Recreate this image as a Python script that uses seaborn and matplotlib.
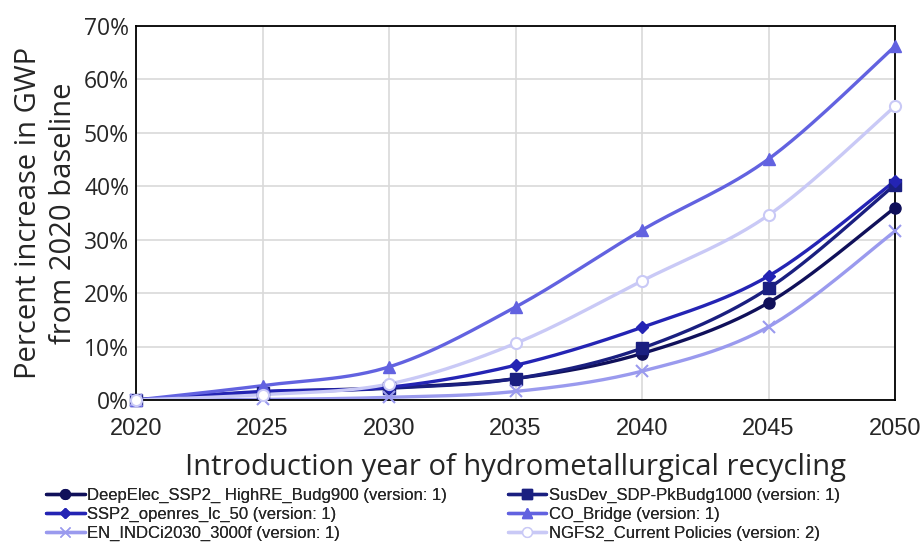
import numpy as np
import pandas as pd
import matplotlib
matplotlib.use("Agg")
import matplotlib.pyplot as plt
from matplotlib.lines import Line2D
from matplotlib.ticker import PercentFormatter
import seaborn as sns

years = [2020, 2025, 2030, 2035, 2040, 2045, 2050]
deepelec = [0.0, 1.5, 2.3, 4.0, 8.7, 18.2, 36.0]
susdev = [0.0, 1.3, 2.2, 4.0, 9.7, 20.9, 40.3]
ssp2 = [0.0, 1.6, 2.4, 6.5, 13.6, 23.2, 41.0]
co_bridge = [0.0, 2.7, 6.2, 17.4, 31.8, 45.1, 66.2]
en_indci = [0.0, 0.1, 0.5, 1.6, 5.4, 13.7, 31.6]
ngfs2 = [0.0, 1.0, 3.0, 10.6, 22.3, 34.6, 55.0]

names = ["DeepElec_SSP2_ HighRE_Budg900 (version: 1)",
         "SusDev_SDP-PkBudg1000 (version: 1)",
         "SSP2_openres_lc_50 (version: 1)",
         "CO_Bridge (version: 1)",
         "EN_INDCi2030_3000f (version: 1)",
         "NGFS2_Current Policies (version: 2)"]
values = [deepelec, susdev, ssp2, co_bridge, en_indci, ngfs2]
colors = ["#10105a", "#1a1f80", "#2424b4", "#6262e0", "#9a9aee", "#c9c9f6"]
markers = ["o", "s", "D", "^", "x", "o"]
filled = [True, True, True, True, True, False]
msizes = [8, 8, 6, 8, 8, 8]


def smooth(x, y, n=30):
    x = np.asarray(x, float); y = np.asarray(y, float)
    P = np.column_stack([x, y])
    P = np.vstack([P[0], P, P[-1]])
    out = []
    for i in range(1, len(P) - 2):
        p0, p1, p2, p3 = P[i - 1], P[i], P[i + 1], P[i + 2]
        c1 = p1 + (p2 - p0) / 6.0
        c2 = p2 - (p3 - p1) / 6.0
        t = np.linspace(0, 1, n)[:, None]
        b = ((1 - t) ** 3) * p1 + 3 * ((1 - t) ** 2) * t * c1 + 3 * (1 - t) * t ** 2 * c2 + t ** 3 * p2
        out.append(b if i == 1 else b[1:])
    return np.vstack(out)


rows = []
pts = []
for nm, v in zip(names, values):
    s = smooth(years, v)
    for xx, yy in s:
        rows.append((nm, xx, yy))
    for xx, yy in zip(years, v):
        pts.append((nm, xx, yy))
curves = pd.DataFrame(rows, columns=["series", "year", "pct"])
points = pd.DataFrame(pts, columns=["series", "year", "pct"])

sns.set_theme(style="white")
plt.rcParams["font.family"] = ["Open Sans", "DejaVu Sans"]

fig = plt.figure(figsize=(9.21, 5.46), dpi=100)
ax = fig.add_axes([0.1477, 0.2674, 0.9718 - 0.1477, 0.9524 - 0.2674])

pal = dict(zip(names, colors))
sns.lineplot(data=curves, x="year", y="pct", hue="series", palette=pal,
             linewidth=2.4, legend=False, ax=ax, sort=False, estimator=None)
for nm, c, m, f, ms in zip(names, colors, markers, filled, msizes):
    sub = points[points.series == nm]
    ax.plot(sub.year, sub.pct, linestyle="none", marker=m, markersize=ms,
            color=c, markerfacecolor=(c if f else "white"),
            markeredgecolor=c, markeredgewidth=1.5 if (not f or m == "x") else 1,
            zorder=4, clip_on=False)

ax.set_xlim(2020, 2050)
ax.set_ylim(0, 70)
ax.set_xticks(years)
ax.set_yticks(range(0, 71, 10))
ax.yaxis.set_major_formatter(PercentFormatter(decimals=0))
ax.grid(True, color="#d9d9d9", linewidth=1.2)
ax.set_axisbelow(True)
for sp in ax.spines.values():
    sp.set_visible(True)
    sp.set_color("black")
    sp.set_linewidth(1.3)

for lbl in ax.get_xticklabels():
    lbl.set_fontfamily(["Liberation Sans", "DejaVu Sans"])
    lbl.set_fontsize(17)
for lbl in ax.get_yticklabels():
    lbl.set_fontsize(16.5)
ax.tick_params(axis="x", pad=13, length=0)
ax.tick_params(axis="y", pad=5, length=0)

ax.set_xlabel("Introduction year of hydrometallurgical recycling", fontsize=21, labelpad=9)
ax.set_ylabel("Percent increase in GWP\nfrom 2020 baseline", fontsize=21, labelpad=4, linespacing=1.3)

handles = []
for nm, c, m, f, ms in zip(names, colors, markers, filled, msizes):
    handles.append(Line2D([0], [0], color=c, linewidth=2.4, marker=m, markersize=ms - 1,
                          markerfacecolor=(c if f else "white"), markeredgecolor=c))
legprop = {"family": ["Liberation Sans", "DejaVu Sans"], "size": 12}
col1 = [0, 2, 4]
col2 = [1, 3, 5]
for idx, x0 in ((col1, 0.034), (col2, 0.535)):
    lg = fig.legend([handles[i] for i in idx], [names[i] for i in idx], ncol=1,
                    loc="lower left", bbox_to_anchor=(x0, -0.019), frameon=False,
                    prop=legprop, handlelength=2.3, handletextpad=0.15,
                    labelspacing=0.25)
    fig.add_artist(lg)

fig.savefig("out.png", dpi=100)
